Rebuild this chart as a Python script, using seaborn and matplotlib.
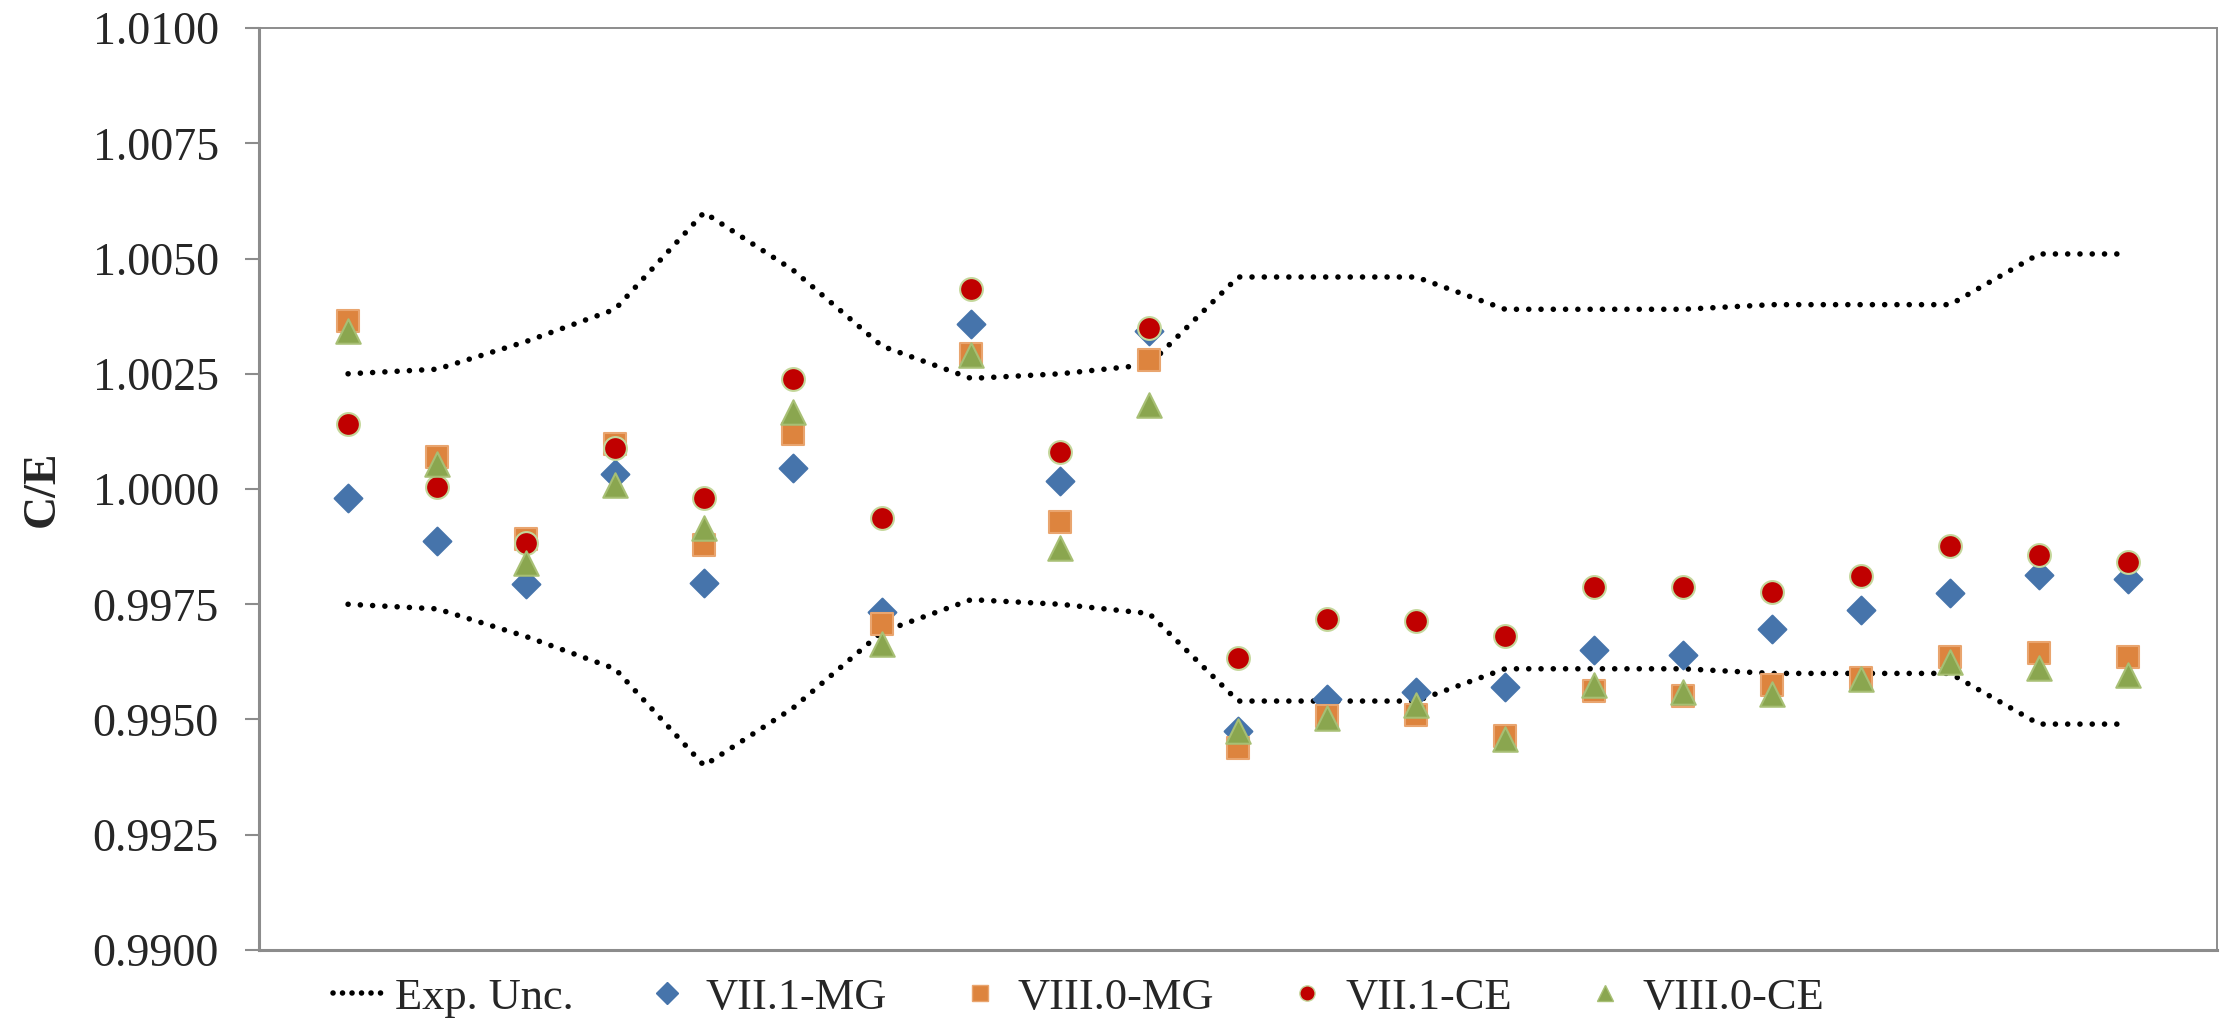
import numpy as np
import pandas as pd
import matplotlib
matplotlib.use("Agg")
import matplotlib.pyplot as plt
import matplotlib.lines as mlines
import seaborn as sns

# # # # # values # # # # #

CASES = list(range(1, 22))  # 21 benchmark cases, no x labels

# half width of the experimental uncertainty band
EXP_UNC = [0.0025, 0.0026, 0.0032, 0.0039, 0.0060, 0.00475, 0.0031, 0.0024, 0.0025, 0.0027,
           0.0046, 0.0046, 0.0046, 0.0039, 0.0039, 0.0039, 0.0040, 0.0040, 0.0040, 0.0051, 0.0051]

VII1_MG = [0.99980, 0.99888, 0.99793, 1.00032, 0.99796, 1.00045, 0.99734, 1.00358, 1.00017, 1.00343,
           0.99476, 0.99544, 0.99559, 0.99571, 0.99651, 0.99639, 0.99697, 0.99737, 0.99774, 0.99814, 0.99805]
VIII0_MG = [1.00364, 1.00069, 0.99891, 1.00097, 0.99879, 1.00120, 0.99707, 1.00293, 0.99928, 1.00281,
            0.99439, 0.99507, 0.99510, 0.99464, 0.99562, 0.99550, 0.99575, 0.99590, 0.99636, 0.99645, 0.99636]
VII1_CE = [1.00140, 1.00005, 0.99882, 1.00088, 0.99980, 1.00238, 0.99937, 1.00435, 1.00081, 1.00349,
           0.99633, 0.99719, 0.99713, 0.99682, 0.99787, 0.99787, 0.99777, 0.99811, 0.99876, 0.99857, 0.99842]
VIII0_CE = [1.00343, 1.00054, 0.99839, 1.00008, 0.99916, 1.00167, 0.99664, 1.00290, 0.99873, 1.00183,
            0.99476, 0.99504, 0.99532, 0.99458, 0.99575, 0.99559, 0.99556, 0.99587, 0.99624, 0.99611, 0.99596]

Y_TICKS = [0.9900, 0.9925, 0.9950, 0.9975, 1.0000, 1.0025, 1.0050, 1.0075, 1.0100]

# # # # # styles # # # # #

FONT = ["Liberation Serif", "DejaVu Serif"]
GRAY = "#8c8c8c"
SERIES = [
	# label, values, marker, face, edge, size
	("VII.1-MG", VII1_MG, "D", "#4674ab", "#4674ab", 200),
	("VIII.0-MG", VIII0_MG, "s", "#dd843e", "#e9a56f", 270),
	("VII.1-CE", VII1_CE, "o", "#c00000", "#c4d79b", 270),
	("VIII.0-CE", VIII0_CE, "^", "#8aa64f", "#a7bf74", 310),
]

sns.set_theme(style="white")
plt.rcParams["font.family"] = FONT

fig = plt.figure(figsize=(22.2, 10.22), dpi=100)
ax = fig.add_axes([0.1167, 0.0705, 0.882, 0.902])

# # # uncertainty band (upper and lower bound) # # #

unc = np.asarray(EXP_UNC)
band = pd.DataFrame({"case": CASES, "upper": 1 + unc, "lower": 1 - unc})
for col in ["upper", "lower"]:
	sns.lineplot(data=band, x="case", y=col, ax=ax, color="black", lw=4.0,
		linestyle=(0, (0.01, 2.2)), dash_capstyle="round", legend=False)

# # # code results # # #

handles = [mlines.Line2D([], [], color="black", lw=4.0, linestyle=(0, (0.01, 1.7)),
	dash_capstyle="round", label="Exp. Unc.")]
for label, vals, mk, face, edge, size in SERIES:
	df = pd.DataFrame({"case": CASES, "ce": vals})
	sns.scatterplot(data=df, x="case", y="ce", ax=ax, marker=mk, s=size,
		color=face, edgecolor=edge, linewidth=1.5, legend=False, zorder=3)
	handles.append(mlines.Line2D([], [], ls="", marker=mk, markersize=11,
		markerfacecolor=face, markeredgecolor=edge, markeredgewidth=1, label=label))

# # # axes # # #

ax.set_xlim(0, 22)
ax.set_ylim(0.99, 1.01)
ax.set_xticks([])
ax.set_yticks(Y_TICKS)
ax.set_yticklabels(["{:.4f}".format(t) for t in Y_TICKS], fontsize=33)
ax.tick_params(axis="y", left=True, direction="out", length=10, width=1.5,
	color=GRAY, pad=19)
ax.set_xlabel("")
ax.set_ylabel("C/E", fontsize=33, fontweight="bold")
ax.yaxis.set_label_coords(-0.100, 0.5)

for side in ["left", "bottom"]:
	ax.spines[side].set_color(GRAY)
	ax.spines[side].set_linewidth(2.2)
for side in ["top", "right"]:
	ax.spines[side].set_color(GRAY)
	ax.spines[side].set_linewidth(1.4)

fig.legend(handles=handles, loc="center", bbox_to_anchor=(0.486, 0.024), ncol=5,
	frameon=False, fontsize=32, handlelength=1.1, handletextpad=0.3, columnspacing=1.55)

fig.savefig("out.png", dpi=100)
